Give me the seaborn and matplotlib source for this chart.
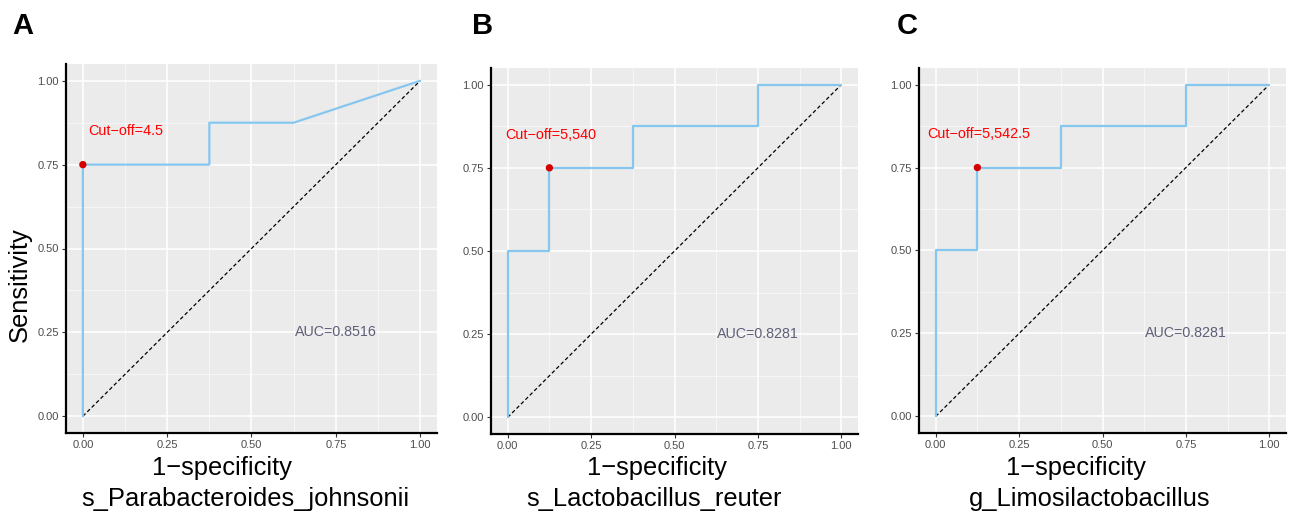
import numpy as np
import pandas as pd
import matplotlib
matplotlib.use("Agg")
import matplotlib.pyplot as plt
import seaborn as sns

# ---- data ----
fpr_A = [0.0, 0.0, 0.375, 0.375, 0.625, 1.0]
tpr_A = [0.0, 0.75, 0.75, 0.875, 0.875, 1.0]
fpr_B = [0.0, 0.0, 0.125, 0.125, 0.375, 0.375, 0.75, 0.75, 1.0]
tpr_B = [0.0, 0.5, 0.5, 0.75, 0.75, 0.875, 0.875, 1.0, 1.0]
fpr_C = [0.0, 0.0, 0.125, 0.125, 0.375, 0.375, 0.75, 0.75, 1.0]
tpr_C = [0.0, 0.5, 0.5, 0.75, 0.75, 0.875, 0.875, 1.0, 1.0]
cut_x = [0.0, 0.125, 0.125]
cut_y = [0.75, 0.75, 0.75]
cut_labels = ["Cut\u2212off=4.5", "Cut\u2212off=5,540", "Cut\u2212off=5,542.5"]
auc_labels = ["AUC=0.8516", "AUC=0.8281", "AUC=0.8281"]
taxa = ["s_Parabacteroides_johnsonii", "s_Lactobacillus_reuter", "g_Limosilactobacillus"]
panel_letters = ["A", "B", "C"]
ticks = [0.0, 0.25, 0.5, 0.75, 1.0]
tick_labels = ["0.00", "0.25", "0.50", "0.75", "1.00"]

sns.set_theme(style="darkgrid")
plt.rcParams["font.family"] = ["Liberation Sans", "DejaVu Sans"]

W, H = 1292, 514
fig = plt.figure(figsize=(W / 100, H / 100), dpi=100)

# axes boxes in pixels: left, top, right, bottom
boxes = [(66, 64, 437, 433), (491, 68, 858, 434), (919, 68, 1286, 433)]
cut_text_pos = [(0.128, 0.85), (0.128, 0.85), (0.13, 0.85)]
xlab1_x = [221.7, 657.0, 1075.5]
xlab2_x = [245.8, 654.5, 1089.5]
letter_x = [23, 483, 907]

fprs = [fpr_A, fpr_B, fpr_C]
tprs = [tpr_A, tpr_B, tpr_C]

for i in range(3):
    l, t, r, b = boxes[i]
    ax = fig.add_axes([l / W, (H - b) / H, (r - l) / W, (b - t) / H])
    ax.set_facecolor("#EBEBEB")
    df = pd.DataFrame({"fpr": fprs[i], "tpr": tprs[i]})
    # diagonal
    diag = pd.DataFrame({"x": [0.0, 1.0], "y": [0.0, 1.0]})
    sns.lineplot(data=diag, x="x", y="y", ax=ax, color="black", lw=0.9,
                 linestyle=(0, (3, 2)), sort=False, estimator=None, zorder=3)
    sns.lineplot(data=df, x="fpr", y="tpr", ax=ax, color="#85C7EE", lw=1.6,
                 sort=False, estimator=None, zorder=4)
    sns.scatterplot(x=[cut_x[i]], y=[cut_y[i]], ax=ax, color="#D40000", s=28,
                    edgecolor="none", zorder=5)
    ax.text(cut_text_pos[i][0], cut_text_pos[i][1], cut_labels[i], color="#FF0000",
            fontsize=10.4, ha="center", va="center", zorder=6)
    ax.text(0.75, 0.25, auc_labels[i], color="#5E5E78", fontsize=10.3,
            ha="center", va="center", zorder=6)

    ax.set_xlim(-0.05, 1.05)
    ax.set_ylim(-0.05, 1.05)
    ax.set_xticks(ticks)
    ax.set_xticklabels(tick_labels)
    ax.set_yticks(ticks)
    ax.set_yticklabels(tick_labels)
    ax.set_xticks([0.125, 0.375, 0.625, 0.875], minor=True)
    ax.set_yticks([0.125, 0.375, 0.625, 0.875], minor=True)
    ax.grid(which="major", color="white", lw=1.1)
    ax.grid(which="minor", color="white", lw=0.5, alpha=0.8)
    ax.tick_params(axis="both", which="major", length=3, width=0.8, color="#333333",
                   labelsize=8.0, labelcolor="#4D4D4D", pad=2, bottom=True, left=True)
    ax.tick_params(axis="both", which="minor", length=0)
    for s in ["top", "right"]:
        ax.spines[s].set_visible(False)
    for s in ["left", "bottom"]:
        ax.spines[s].set_visible(True)
        ax.spines[s].set_color("black")
        ax.spines[s].set_linewidth(1.6)
    ax.set_xlabel("")
    ax.set_ylabel("")

    fig.text(xlab1_x[i] / W, 1 - 468 / H, "1\u2212specificity", fontsize=18.4,
             ha="center", va="center", color="black")
    fig.text(xlab2_x[i] / W, 1 - 499 / H, taxa[i], fontsize=18.4,
             ha="center", va="center", color="black")
    fig.text(letter_x[i] / W, 1 - 26 / H, panel_letters[i], fontsize=21,
             fontweight="bold", ha="center", va="center", color="black")

fig.text(20 / W, 1 - 285 / H, "Sensitivity", fontsize=18.4, rotation=90,
         ha="center", va="center", color="black")

fig.savefig("out.png", dpi=100, facecolor="white")
